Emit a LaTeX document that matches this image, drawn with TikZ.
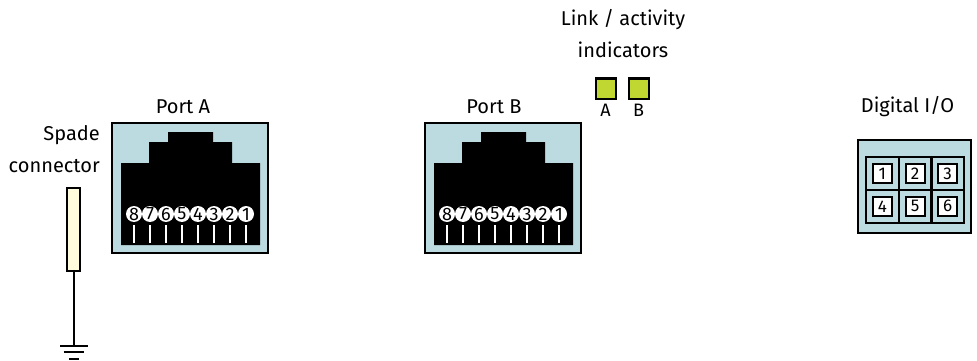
\documentclass[tikz,border=0pt]{standalone}
\usepackage{fontspec}
\setmainfont{Fira Sans}
\usetikzlibrary{positioning}
\definecolor{portblue}{HTML}{BBDBE1}
\definecolor{ledgreen}{HTML}{BFD730}
\definecolor{spadecream}{HTML}{FFFBDD}
\begin{document}
\begin{tikzpicture}[x=1pt, y=-1pt,
    label/.style={font=\fontsize{20}{32}\selectfont, align=center, inner sep=0pt},
    housing/.style={rectangle, draw=black, fill=portblue, line width=2pt, inner sep=0pt},
    pinhead/.style={circle, fill=white, minimum size=16pt, inner sep=0pt, font=\fontsize{18}{18}\selectfont},
    led/.style={rectangle, draw=black, fill=ledgreen, line width=2pt, minimum size=20pt, inner sep=0pt},
    ledtext/.style={font=\fontsize{18}{18}\selectfont, inner sep=0pt},
    cell/.style={rectangle, draw=black, line width=2pt, minimum width=33pt, minimum height=33pt, inner sep=0pt},
    terminal/.style={rectangle, draw=black, fill=white, line width=2pt, minimum size=19pt, inner sep=0pt, font=\fontsize{17}{17}\selectfont},
    wire/.style={draw=black, line width=2pt},
    rjport/.pic={
        \node [housing, minimum width=156pt, minimum height=130pt] (-box) at (78,65) {};
        \fill (9,122) -- (9,40) -- (37,40) -- (37,19) -- (56,19) -- (56,9) -- (101,9) -- (101,19)
            -- (120,19) -- (120,40) -- (148,40) -- (148,122) -- cycle;
        \foreach \n in {1,...,8} {
            \node [pinhead] (-pin\n) at (150-16*\n,91) {\n};
            \draw [white, line width=2pt] (-pin\n.south) ++(0,3) -- ++(0,18);
        }
    }]
\useasboundingbox (0,0) rectangle (977,361);

% Labels
\node [label, align=right, anchor=east] (spadelabel) at (100,149.5) {Spade\\connector};
\node [label] (portalabel) at (183,107) {Port A};
\node [label] (portblabel) at (494,107) {Port B};
\node [label] (ledlabel) at (623,34) {Link / activity\\indicators};
\node [label] (diolabel) at (907.5,107) {Digital I/O};

% Ports
\pic (porta) at (112,123) {rjport};
\pic (portb) at (425,123) {rjport};

% Indicators
\node [led] (leda) at (605.5,88.5) {};
\node [led] (ledb) at (638.5,88.5) {};
\node [ledtext, below=4pt of leda] (ledatext) {A};
\node [ledtext, below=4pt of ledb] (ledbtext) {B};

% Digital I/O
\node [housing, minimum width=113pt, minimum height=93pt] (diobox) at (914.5,186.5) {};
\foreach \n/\cx/\cy in {1/882.3/173.7, 2/915/173.7, 3/947.7/173.7, 4/882.3/206.3, 5/915/206.3, 6/947.7/206.3} {
    \node [cell] (cell\n) at (\cx,\cy) {};
    \node [terminal] (term\n) at (\cx,\cy) {\n};
}

% Spade connector and ground
\node [rectangle, draw=black, fill=spadecream, line width=2pt, minimum width=13pt, minimum height=83pt, inner sep=0pt] (spade) at (73.5,229.5) {};
\coordinate (gnd) at (73.5,345.7);
\draw [wire] (spade.south) -- (gnd);
\draw [wire] (60,345.7) -- (87.5,345.7);
\draw [wire] (63.7,352) -- (83.7,352);
\draw [wire] (69,358.5) -- (78.7,358.5);

\end{tikzpicture}
\end{document}
